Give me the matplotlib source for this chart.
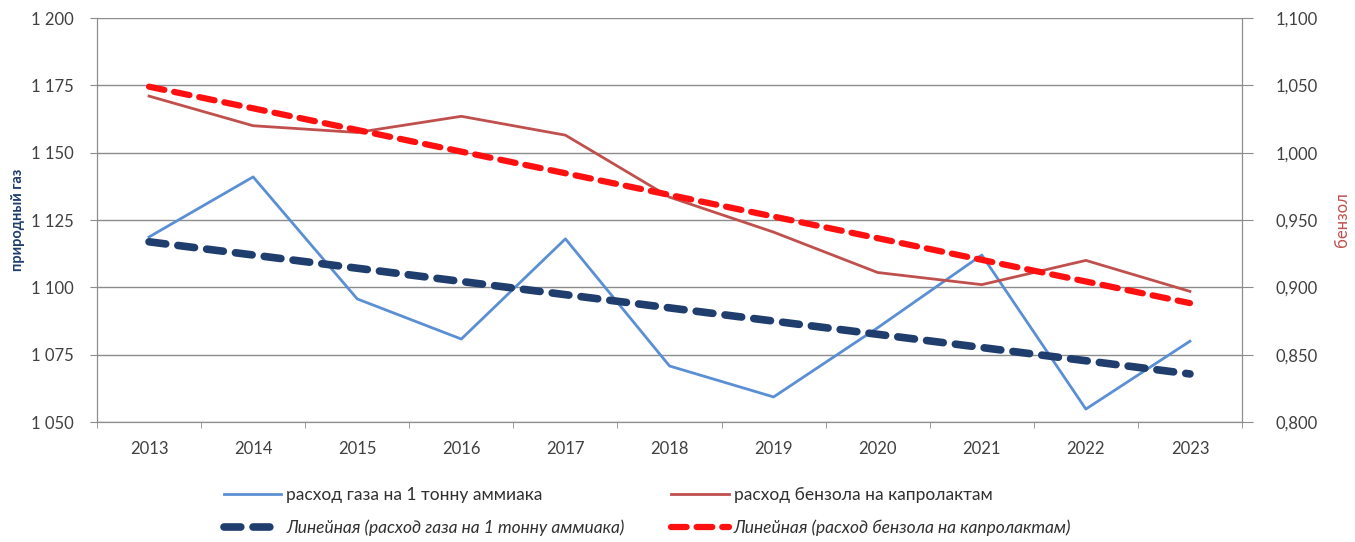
import numpy as np
import matplotlib.pyplot as plt
from matplotlib.ticker import FuncFormatter

plt.rcParams['font.family'] = ['Lato', 'DejaVu Sans']

years = [2013, 2014, 2015, 2016, 2017, 2018, 2019, 2020, 2021, 2022, 2023]
gas = [1118.7, 1141.0, 1095.7, 1080.8, 1118.0, 1070.8, 1059.3, 1085.0, 1112.0, 1054.8, 1080.0]
benzene = [1.042, 1.020, 1.015, 1.027, 1.013, 0.967, 0.941, 0.911, 0.902, 0.920, 0.897]

x = np.arange(len(years))

# линейные тренды, как в Excel
k1, b1 = np.polyfit(x, gas, 1)
k2, b2 = np.polyfit(x, benzene, 1)

fig = plt.figure(figsize=(13.55, 5.42), dpi=100)
ax = fig.add_axes([97/1355, 120/542, 1145/1355, 404/542])
ax2 = ax.twinx()

grid_c = '#8c8c8c'
txt_c = '#404040'

ln1, = ax.plot(x, gas, color='#5b8fd4', lw=2.0, label='расход газа на 1 тонну аммиака')
ln3, = ax.plot(x, k1 * x + b1, color='#1f3e6e', lw=5.5, ls=(0, (2.2, 1.6)),
               dash_capstyle='round', label='Линейная (расход газа на 1 тонну аммиака)')
ln2, = ax2.plot(x, benzene, color='#c0504d', lw=2.0, label='расход бензола на капролактам')
ln4, = ax2.plot(x, k2 * x + b2, color='#ff1010', lw=4.5, ls=(0, (2.5, 1.6)),
                dash_capstyle='round', label='Линейная (расход бензола на капролактам)')

ax.set_xlim(-0.5, len(years) - 0.5)
ax.set_ylim(1050, 1200)
ax.set_yticks(np.arange(1050, 1201, 25))
ax.yaxis.set_major_formatter(FuncFormatter(lambda v, p: f'{int(v):,}'.replace(',', ' ')))
ax2.set_ylim(0.8, 1.1)
ax2.set_yticks(np.arange(0.8, 1.1001, 0.05))
ax2.yaxis.set_major_formatter(FuncFormatter(lambda v, p: f'{v:.3f}'.replace('.', ',')))

ax.set_xticks(x)
ax.set_xticklabels([str(y) for y in years])
ax.set_xticks(np.arange(-0.5, len(years), 1), minor=True)
ax.tick_params(axis='x', which='major', length=0, pad=14, labelsize=12, colors=txt_c)
ax.tick_params(axis='x', which='minor', length=4, color=grid_c)
ax.tick_params(axis='y', length=5, color=grid_c, labelsize=12, labelcolor=txt_c, pad=12)
ax2.tick_params(axis='y', length=8, color=grid_c, labelsize=12, labelcolor=txt_c, pad=16)

ax.grid(axis='y', color=grid_c, lw=1.0)
ax.set_axisbelow(True)
for a in (ax, ax2):
    for s in a.spines.values():
        s.set_color(grid_c)
    a.spines['top'].set_visible(False)

ax.set_ylabel('природный газ', color='#1f3e6e', fontsize=10.5, fontweight='bold', labelpad=4)
ax2.set_ylabel('бензол', color='#c0504d', fontsize=12, labelpad=12)

# порядок: построчно по два элемента
leg = fig.legend(handles=[ln1, ln3, ln2, ln4], loc='lower left', bbox_to_anchor=(208/1355, -0.018),
                 ncol=2, frameon=False, fontsize=12.5, handlelength=3.3, columnspacing=2.7,
                 labelspacing=0.95, handletextpad=0.3, labelcolor='#303030')
for t in leg.get_texts()[1::2]:
    t.set_style('italic')

fig.savefig('out.png', dpi=100)
